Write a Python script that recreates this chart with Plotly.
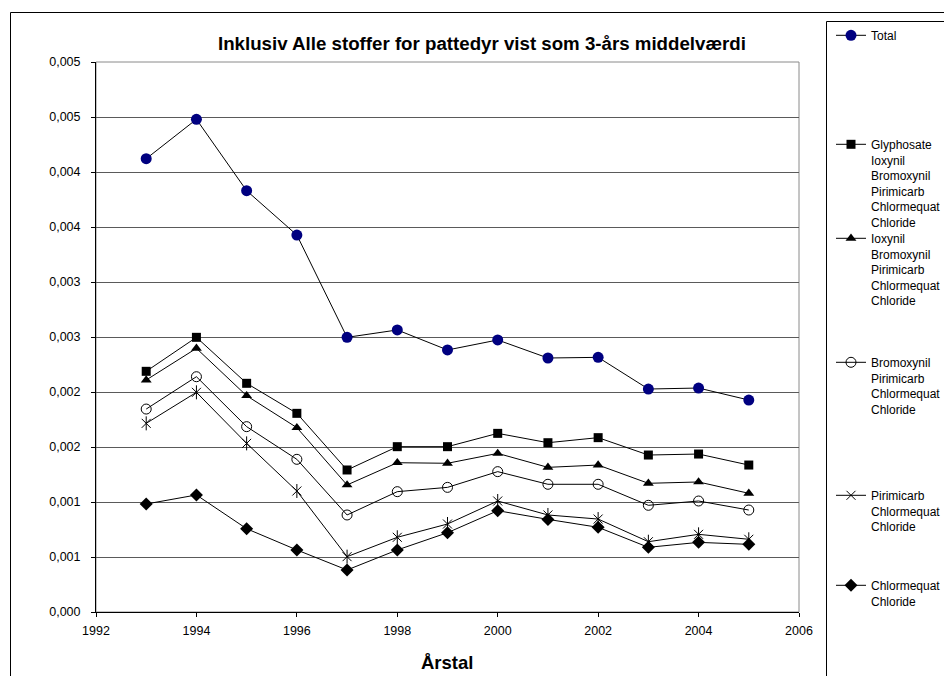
import plotly.graph_objects as go

years = [1993, 1994, 1995, 1996, 1997, 1998, 1999, 2000, 2001, 2002, 2003, 2004, 2005]

total = [0.004121, 0.004479, 0.00383, 0.003427, 0.002497, 0.002564, 0.002382, 0.002473,
         0.002309, 0.002315, 0.002027, 0.002036, 0.001927]
glyphosate = [0.002188, 0.002497, 0.002079, 0.001806, 0.001291, 0.001503, 0.001503, 0.001624,
              0.001539, 0.001585, 0.001427, 0.001436, 0.001336]
ioxynil = [0.002109, 0.002397, 0.001966, 0.001676, 0.001155, 0.001357, 0.001352, 0.001442,
           0.001315, 0.001336, 0.00117, 0.001182, 0.001079]
bromoxynil = [0.001845, 0.002139, 0.001685, 0.001388, 0.000882, 0.001094, 0.001133, 0.001276,
              0.001161, 0.001161, 0.00097, 0.001009, 0.000927]
pirimicarb = [0.001715, 0.001997, 0.001533, 0.0011, 0.000503, 0.000679, 0.0008, 0.001009,
              0.000882, 0.000845, 0.000639, 0.000706, 0.000661]
chlormequat = [0.000982, 0.001064, 0.000757, 0.000564, 0.000382, 0.000564, 0.000721, 0.000921,
               0.000842, 0.00077, 0.000588, 0.000633, 0.000615]

series_names = [
    "Total",
    "Glyphosate<br>Ioxynil<br>Bromoxynil<br>Pirimicarb<br>Chlormequat<br>Chloride",
    "Ioxynil<br>Bromoxynil<br>Pirimicarb<br>Chlormequat<br>Chloride",
    "Bromoxynil<br>Pirimicarb<br>Chlormequat<br>Chloride",
    "Pirimicarb<br>Chlormequat<br>Chloride",
    "Chlormequat<br>Chloride",
]
series_values = [total, glyphosate, ioxynil, bromoxynil, pirimicarb, chlormequat]

y_tickvals = [0, 0.0005, 0.001, 0.0015, 0.002, 0.0025, 0.003, 0.0035, 0.004, 0.0045, 0.005]
y_ticktext = ["0,000", "0,001", "0,001", "0,002", "0,002", "0,003", "0,003",
              "0,004", "0,004", "0,005", "0,005"]
x_tickvals = [1992, 1994, 1996, 1998, 2000, 2002, 2004, 2006]

title_text = "Inklusiv Alle stoffer for pattedyr vist som 3-års middelværdi"
x_title = "Årstal"

styles = [
    dict(symbol="circle", size=11, color="#000080", line=dict(width=0)),
    dict(symbol="square", size=9, color="black", line=dict(width=0)),
    dict(symbol="triangle-up", size=9.5, color="black", line=dict(width=0)),
    dict(symbol="circle-open", size=10, color="black", line=dict(width=1, color="black")),
    dict(symbol="x-thin-open", size=9, color="black", line=dict(width=1, color="black")),
    dict(symbol="diamond", size=10, color="black", line=dict(width=0)),
]
# vertical centre (page px) of the first line of each legend entry
legend_rows = [35, 144, 238, 362, 495, 585]

# page has an 8px body margin; the figure is drawn 8px in from the top-left
OFF = 8
W, H = 952 - OFF, 676 - OFF
PL, PR, PT, PB = 96, 799, 62, 612          # plot area in page pixels
L, R, T, B = PL - OFF, W - (PR - OFF), PT - OFF, H - (PB - OFF)
pw, ph = W - L - R, H - T - B


def px(x):
    return (x - OFF - L) / pw


def py(y):
    return (H - B - (y - OFF)) / ph


font = "Liberation Sans, Arial, sans-serif"
fig = go.Figure()
legend_layouts = {}
for i, (name, vals, st) in enumerate(zip(series_names, series_values, styles)):
    lname = "legend" if i == 0 else "legend%d" % (i + 1)
    fig.add_trace(go.Scatter(
        x=years, y=vals, name=name, mode="lines+markers",
        line=dict(color="black", width=1),
        marker=st, legend=lname,
    ))
    if st["symbol"] == "x-thin-open":
        # Excel-style star marker: X plus a vertical stroke
        fig.add_trace(go.Scatter(
            x=years, y=vals, mode="markers", showlegend=False, hoverinfo="skip",
            marker=dict(symbol="line-ns-open", size=10, color="black",
                        line=dict(width=1, color="black")),
        ))
    legend_layouts[lname] = dict(
        x=px(831), y=py(legend_rows[i] - 14), xanchor="left", yanchor="top",
        bgcolor="rgba(0,0,0,0)", borderwidth=0,
        font=dict(family=font, size=12, color="black"),
        valign="top", itemwidth=30, maxheight=1000,
    )

fig.update_layout(
    width=W, height=H,
    margin=dict(l=L, r=R, t=T, b=B, autoexpand=False),
    paper_bgcolor="white", plot_bgcolor="white",
    font=dict(family=font, size=12, color="black"),
    showlegend=True,
    xaxis=dict(
        range=[1992, 2006], tickvals=x_tickvals, ticks="outside", ticklen=4,
        tickcolor="black", showline=True, linecolor="black", linewidth=1,
        showgrid=False, zeroline=False, tickfont=dict(size=12.5),
        ticklabelstandoff=3,
    ),
    yaxis=dict(
        range=[0, 0.005], tickvals=y_tickvals, ticktext=y_ticktext,
        ticks="outside", ticklen=4, tickcolor="black", showline=True,
        linecolor="black", linewidth=1, showgrid=True, gridcolor="#5a5a5a",
        gridwidth=1, zeroline=False, tickfont=dict(size=12.5),
        ticklabelstandoff=8,
    ),
    shapes=[
        dict(type="rect", xref="paper", yref="paper", x0=0, y0=0, x1=1, y1=1,
             line=dict(color="#8a8a8a", width=1), layer="below"),
        dict(type="rect", xref="paper", yref="paper", x0=px(10.5), y0=py(700),
             x1=px(980), y1=py(12.5), line=dict(color="black", width=1)),
        dict(type="rect", xref="paper", yref="paper", x0=px(826.5), y0=py(676.5),
             x1=px(980), y1=py(21.5), line=dict(color="black", width=1)),
    ],
    annotations=[
        dict(text="<b>" + title_text + "</b>", xref="paper", yref="paper",
             x=px(482), y=py(43.5), xanchor="center", yanchor="middle",
             showarrow=False, font=dict(family=font, size=18.7, color="black")),
        dict(text="<b>" + x_title + "</b>", xref="paper", yref="paper",
             x=px(447), y=py(662), xanchor="center", yanchor="middle",
             showarrow=False, font=dict(family=font, size=18.5, color="black")),
    ],
    **legend_layouts,
)

fig.write_html("out.html")
